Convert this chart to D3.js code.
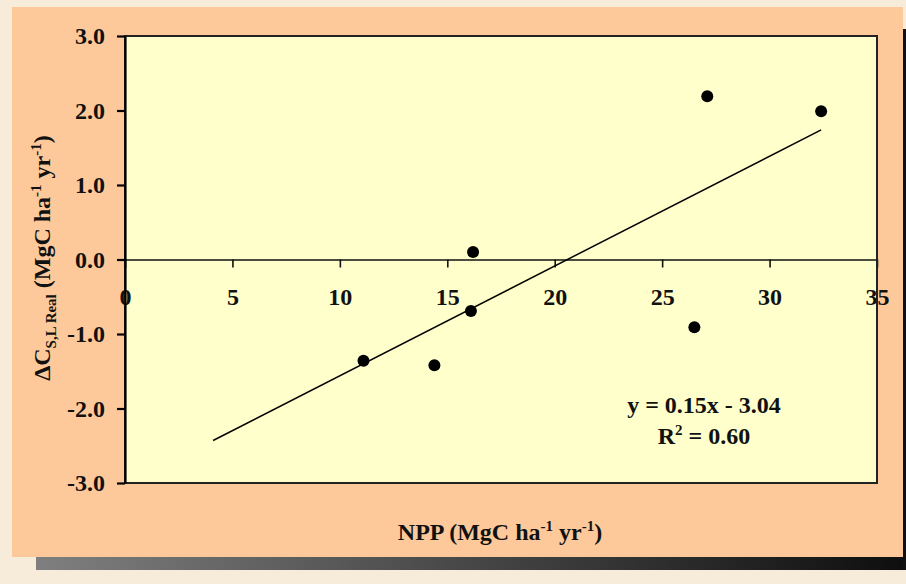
<!DOCTYPE html>
<html>
<head>
<meta charset="utf-8">
<script src="https://cdn.jsdelivr.net/npm/d3@7"></script>
<style>
  body { margin: 0; background: #f6ecd9; }
  svg { display: block; }
  text { font-family: "Liberation Serif", "Times New Roman", serif; font-weight: bold; fill: #111; }
</style>
</head>
<body>
<svg width="906" height="584"></svg>
<script>
  // values
  var nppValues = [11.1, 14.4, 16.2, 16.1, 26.5, 27.1, 32.4];
  var dcValues = [-1.36, -1.42, 0.10, -0.69, -0.91, 2.19, 1.99];
  var trendX = [4.1, 32.4];
  var trendY = [-2.43, 1.74];
  var xTicks = [0, 5, 10, 15, 20, 25, 30, 35];
  var yTicks = [-3, -2, -1, 0, 1, 2, 3];
  var equationText = "y = 0.15x - 3.04";

  var svg = d3.select("svg");
  var plotLeft = 125, plotTop = 36, plotRight = 877, plotBottom = 483;
  var fs = "24px", supFs = "15px";

  var defs = svg.append("defs");
  var grad = defs.append("linearGradient").attr("id", "shadow");
  grad.append("stop").attr("offset", "0%").attr("stop-color", "#7f7f7f");
  grad.append("stop").attr("offset", "100%").attr("stop-color", "#0e0e0e");

  // panel shadow and panel
  svg.append("rect").attr("x", 36).attr("y", 557).attr("width", 870).attr("height", 13).attr("fill", "url(#shadow)");
  svg.append("rect").attr("x", 903).attr("y", 29).attr("width", 3).attr("height", 541).attr("fill", "#111");
  svg.append("rect").attr("x", 12).attr("y", 7).attr("width", 891).attr("height", 550).attr("fill", "#fec99a");

  // plot area
  svg.append("rect").attr("x", plotLeft).attr("y", plotTop).attr("width", plotRight - plotLeft).attr("height", plotBottom - plotTop).attr("fill", "#ffffcc");

  var x = d3.scaleLinear().domain([0, 35]).range([plotLeft, plotRight]);
  var y = d3.scaleLinear().domain([-3, 3]).range([plotBottom, plotTop]);

  // x axis along y = 0
  var gx = svg.append("g").attr("transform", "translate(0," + y(0) + ")")
    .call(d3.axisBottom(x).tickValues(xTicks).tickSizeInner(8).tickSizeOuter(0).tickPadding(20).tickFormat(d3.format("d")));
  gx.selectAll("path, line").attr("stroke", "#111").attr("stroke-width", 1.6);
  gx.selectAll("text").style("font-size", fs).attr("fill", "#111");

  // frame
  svg.append("rect").attr("x", plotLeft).attr("y", plotTop).attr("width", plotRight - plotLeft).attr("height", plotBottom - plotTop)
    .attr("fill", "none").attr("stroke", "#222").attr("stroke-width", 2);

  var yFmt = d3.format(".1f");
  var gy = svg.append("g").attr("transform", "translate(" + plotLeft + ",0)")
    .call(d3.axisLeft(y).tickValues(yTicks).tickSizeInner(8).tickSizeOuter(0).tickPadding(12)
      .tickFormat(function(d) { return yFmt(d).replace("\u2212", "-"); }));
  gy.selectAll("path, line").attr("stroke", "#000").attr("stroke-width", 2.2);
  gy.selectAll("text").style("font-size", fs).attr("fill", "#111");

  // trend line
  svg.append("line").attr("x1", x(trendX[0])).attr("y1", y(trendY[0])).attr("x2", x(trendX[1])).attr("y2", y(trendY[1]))
    .attr("stroke", "#000").attr("stroke-width", 1.5);

  // points
  svg.append("g").selectAll("circle").data(nppValues).join("circle")
    .attr("cx", function(d) { return x(d); })
    .attr("cy", function(d, i) { return y(dcValues[i]); })
    .attr("r", 6).attr("fill", "#000");

  // equation
  svg.append("text").attr("x", 704).attr("y", 413).attr("text-anchor", "middle").style("font-size", fs).text(equationText);
  var r2 = svg.append("text").attr("x", 704).attr("y", 444).attr("text-anchor", "middle").style("font-size", fs);
  r2.append("tspan").text("R");
  r2.append("tspan").attr("dy", -9).style("font-size", supFs).text("2");
  r2.append("tspan").attr("dy", 9).text(" = 0.60");

  // x title
  var xt = svg.append("text").attr("x", 500).attr("y", 540).attr("text-anchor", "middle").style("font-size", fs);
  xt.append("tspan").text("NPP (MgC ha");
  xt.append("tspan").attr("dy", -9).style("font-size", supFs).text("-1");
  xt.append("tspan").attr("dy", 9).text(" yr");
  xt.append("tspan").attr("dy", -9).style("font-size", supFs).text("-1");
  xt.append("tspan").attr("dy", 9).text(")");

  // y title
  var yt = svg.append("text").attr("transform", "translate(50,258) rotate(-90)").attr("text-anchor", "middle").style("font-size", fs);
  yt.append("tspan").text("\u0394C");
  yt.append("tspan").attr("dy", 6).style("font-size", supFs).text("S,L Real");
  yt.append("tspan").attr("dy", -6).text(" (MgC ha");
  yt.append("tspan").attr("dy", -9).style("font-size", supFs).text("-1");
  yt.append("tspan").attr("dy", 9).text(" yr");
  yt.append("tspan").attr("dy", -9).style("font-size", supFs).text("-1");
  yt.append("tspan").attr("dy", 9).text(")");
</script>
</body>
</html>
